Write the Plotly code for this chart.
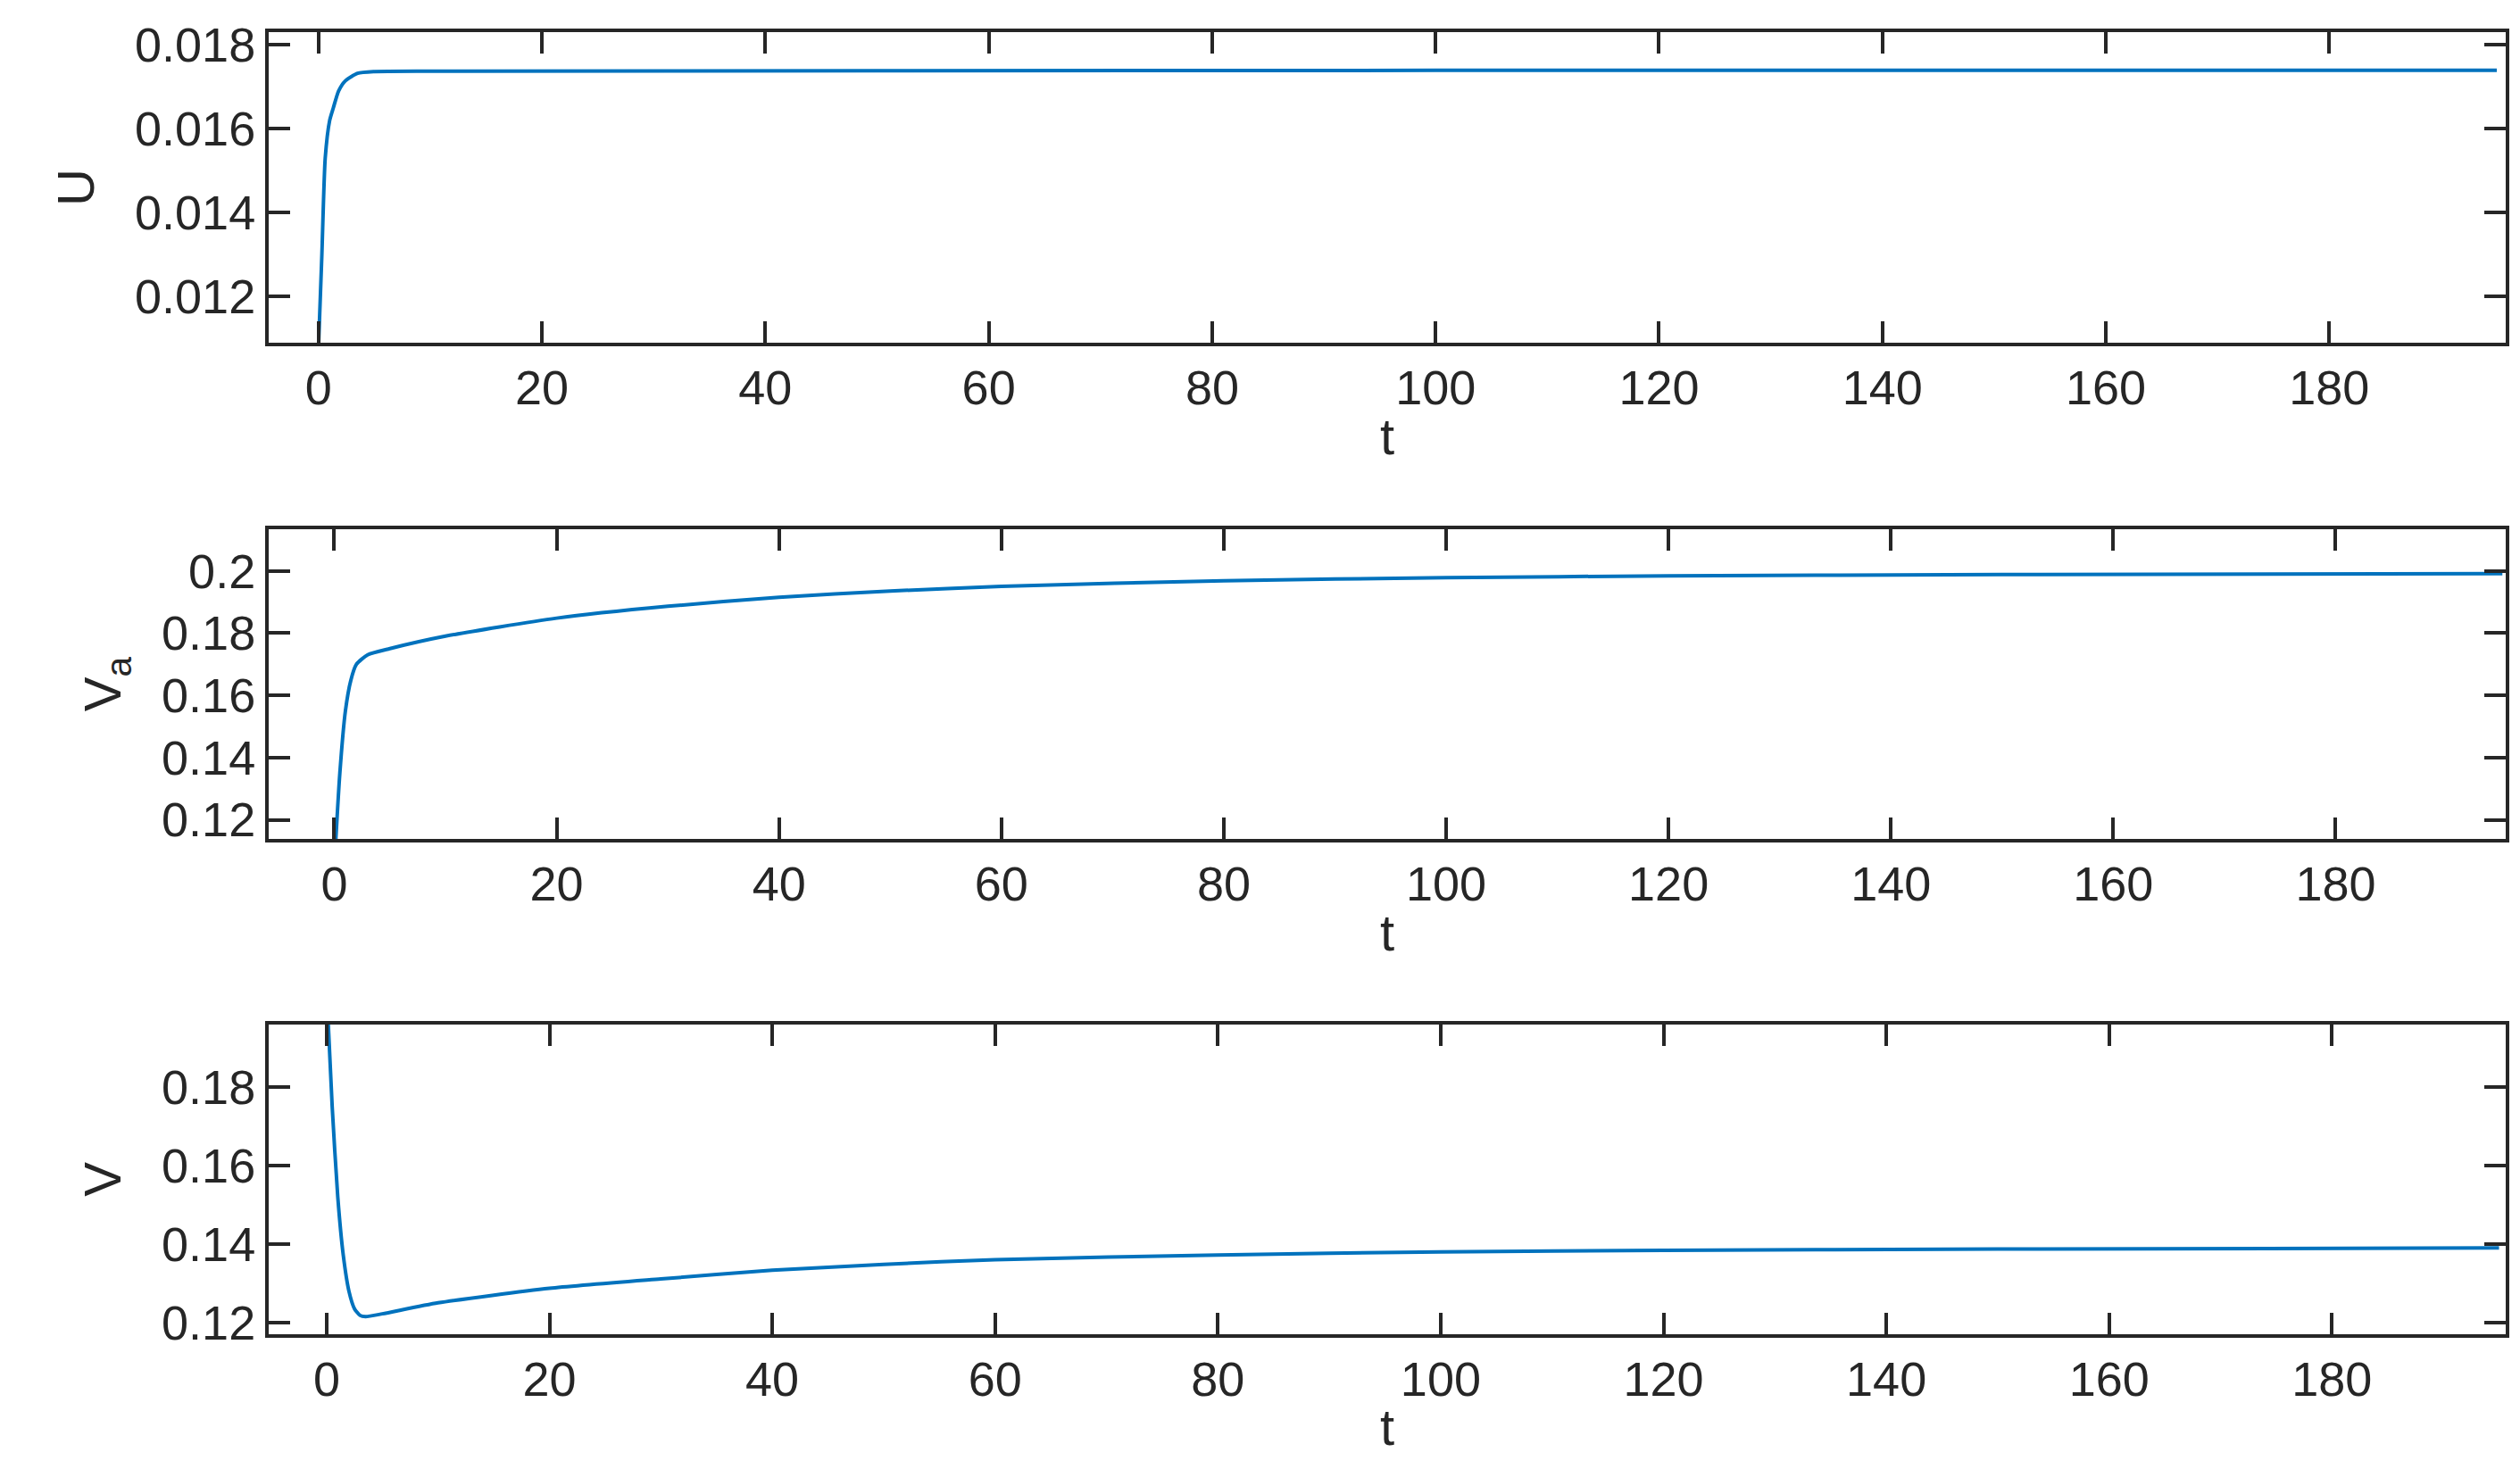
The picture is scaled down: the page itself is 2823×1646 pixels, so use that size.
import plotly.graph_objects as go

t_u = [0, 0.3, 0.6, 1.0, 1.33, 1.8, 2.4, 3.5, 5, 10, 50, 100, 150, 195]
u = [0.0108, 0.0130, 0.0153, 0.0162, 0.0165, 0.0169, 0.01714, 0.01732, 0.01736, 0.01737, 0.01738, 0.01739, 0.01739, 0.01739]
t_va = [0, 0.5, 1, 1.5, 2, 3, 5, 10, 20, 30, 40, 50, 60, 80, 100, 120, 150, 195]
va = [0.105, 0.135, 0.155, 0.165, 0.170, 0.173, 0.175, 0.1790, 0.1848, 0.1886, 0.1915, 0.1935, 0.1950, 0.1968, 0.1978, 0.1984, 0.1988, 0.1991]
t_v = [0, 0.5, 1, 1.5, 2, 2.5, 3, 3.5, 5, 10, 20, 30, 40, 50, 60, 80, 100, 120, 150, 195]
v = [0.205, 0.175, 0.152, 0.137, 0.128, 0.1235, 0.1218, 0.1215, 0.1222, 0.1250, 0.1287, 0.1311, 0.1333, 0.1348, 0.1360, 0.1372, 0.1380, 0.1384, 0.1387, 0.1390]

xticks = list(range(0, 181, 20))
color = "#0072BD"
ink = "#262626"
font = dict(family="Liberation Sans, Arial", size=54, color=ink)
tfont = dict(family="Liberation Sans, Arial", size=58, color=ink)

fig = go.Figure()
panels = [
    (t_u, u, "U", [0.7613, 1.0], [-4.46, 195.8], [0.0109, 0.0183], [0.012, 0.014, 0.016, 0.018]),
    (t_va, va, "V<sub>a</sub>", [0.3803, 0.6183], [-5.9, 195.3], [0.1138, 0.2134], [0.12, 0.14, 0.16, 0.18, 0.2]),
    (t_v, v, "V", [0.0, 0.238], [-5.2, 195.6], [0.117, 0.196], [0.12, 0.14, 0.16, 0.18]),
]
layout = {}
for i, (tx, ty, name, dom, xr, yr, yt) in enumerate(panels):
    n = "" if i == 0 else str(i + 1)
    fig.add_trace(go.Scatter(x=tx, y=ty, mode="lines", line=dict(color=color, width=4, shape="spline", smoothing=0.6),
                             xaxis="x" + n, yaxis="y" + n, showlegend=False))
    common = dict(showline=True, linecolor=ink, linewidth=4, mirror="ticks", ticks="inside", ticklen=24,
                  tickwidth=4, tickcolor=ink, showgrid=False, zeroline=False, tickfont=font)
    layout["xaxis" + n] = dict(common, domain=[0, 1], range=xr, tickvals=xticks, anchor="y" + n,
                               title=dict(text="t", font=tfont, standoff=6))
    layout["yaxis" + n] = dict(common, domain=dom, range=yr, tickvals=yt, anchor="x" + n,
                               title=dict(text=name, font=tfont, standoff=28))
fig.update_layout(**layout, width=2823, height=1646, margin=dict(l=293, r=24, t=25, b=159),
                  plot_bgcolor="white", paper_bgcolor="white")
fig.write_html("out.html")
